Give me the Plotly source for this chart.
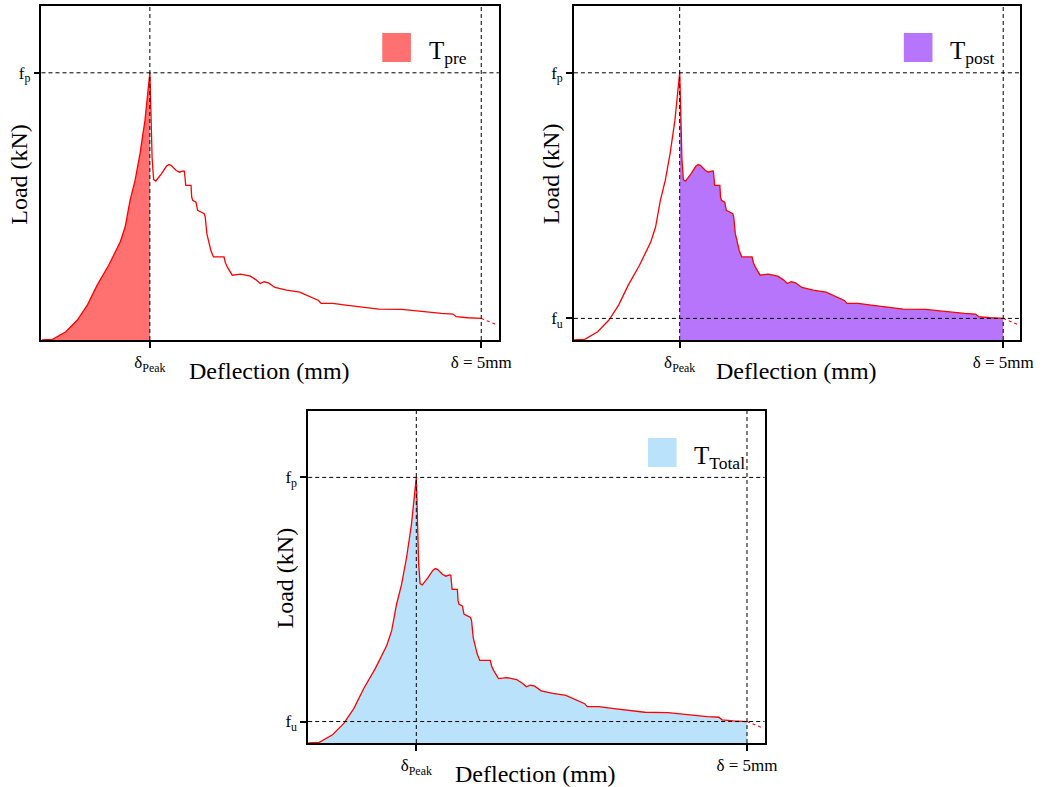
import plotly.graph_objects as go

W, H = 1064, 787

# ---- data (deflection in mm, load in kN) ----
deflection = [0.0, 0.127, 0.277, 0.408, 0.521, 0.633, 0.764, 0.895, 0.951, 1.007, 1.064, 1.120,
              1.176, 1.213, 1.232, 1.243, 1.258, 1.275, 1.300, 1.363, 1.420, 1.449, 1.476, 1.532,
              1.569, 1.610, 1.625, 1.640, 1.700, 1.708, 1.719, 1.757, 1.775, 1.813, 1.850, 1.862,
              1.880, 1.925, 1.955, 2.075, 2.090, 2.112, 2.169, 2.262, 2.375, 2.440, 2.487, 2.530,
              2.581, 2.655, 2.787, 2.936, 3.067, 3.150, 3.180, 3.311, 3.461, 3.610, 3.835, 4.097,
              4.322, 4.547, 4.678, 4.715, 4.846, 5.0]
load = [0.0, 0.025, 0.311, 0.746, 1.306, 2.052, 2.799, 3.669, 4.229, 5.224, 5.970, 6.965,
        8.209, 9.328, 10.0, 8.700, 6.800, 6.000, 5.950, 6.219, 6.500, 6.567, 6.530, 6.343,
        6.281, 6.330, 6.318, 5.784, 5.784, 5.350, 5.224, 5.162, 4.851, 4.789, 4.726, 4.600,
        3.980, 3.358, 3.109, 3.109, 2.900, 2.736, 2.425, 2.463, 2.388, 2.250, 2.114, 2.180,
        2.139, 1.965, 1.866, 1.791, 1.617, 1.480, 1.368, 1.368, 1.306, 1.244, 1.157, 1.144,
        1.057, 0.995, 0.970, 0.871, 0.833, 0.808]
tail_deflection = [5.0, 5.184]
tail_load = [0.808, 0.560]

delta_peak = 1.232
delta_5 = 5.0
f_p = 10.0
f_u = 0.808
x_range = [0, 5.2]
y_range = [0, 12.5]

panels = [
    dict(name="pre", label="T<sub>pre</sub>", color="rgb(255,112,112)", fill=(0.0, delta_peak),
         box=(42, 505, 6, 340), show_fu=False),
    dict(name="post", label="T<sub>post</sub>", color="rgb(183,117,252)", fill=(delta_peak, delta_5),
         box=(581, 1033, 6, 340), show_fu=True),
    dict(name="total", label="T<sub>Total</sub>", color="rgb(186,226,250)", fill=(0.0, delta_5),
         box=(312, 774, 411, 743), show_fu=True),
]

FONT = "Liberation Serif"
fig = go.Figure()
layout = dict(
    width=W, height=H, margin=dict(l=0, r=0, t=0, b=0),
    paper_bgcolor="white", plot_bgcolor="white", showlegend=False,
    font=dict(family=FONT, color="black"),
)
shapes, annotations = [], []


def px(xp):
    return xp / W


def py(yp):
    return 1 - yp / H


for i, p in enumerate(panels):
    k = "" if i == 0 else str(i + 1)
    xa, ya = "x" + k, "y" + k
    l, r, t, b = p["box"]
    # fill
    lo, hi = p["fill"]
    fx, fy = [], []
    for xv, yv in zip(deflection, load):
        if lo - 1e-9 <= xv <= hi + 1e-9:
            fx.append(xv)
            fy.append(yv)
    fig.add_trace(go.Scatter(x=fx, y=fy, mode="lines", line=dict(width=0), fill="tozeroy",
                             fillcolor=p["color"], xaxis=xa, yaxis=ya, hoverinfo="skip"))
    # curve
    fig.add_trace(go.Scatter(x=deflection, y=load, mode="lines", line=dict(color="red", width=1.3),
                             xaxis=xa, yaxis=ya))
    fig.add_trace(go.Scatter(x=tail_deflection, y=tail_load, mode="lines",
                             line=dict(color="red", width=1.1, dash="3px,3px"), xaxis=xa, yaxis=ya))

    yticks = [f_p] + ([f_u] if p["show_fu"] else [])
    ytext = ["f<sub>p</sub>"] + (["f<sub>u</sub>"] if p["show_fu"] else [])
    layout["xaxis" + k] = dict(
        domain=[px(l), px(r)], range=x_range, anchor=ya, showgrid=False, zeroline=False,
        showline=True, mirror=True, linecolor="black", linewidth=1.5,
        ticks="outside", ticklen=6, tickwidth=1.5, tickcolor="black",
        tickvals=[delta_peak, delta_5], ticktext=["δ<sub>Peak</sub>", "δ = 5mm"],
        tickfont=dict(family=FONT, size=17, color="black"),
    )
    layout["yaxis" + k] = dict(
        domain=[py(b), py(t)], range=y_range, anchor=xa, showgrid=False, zeroline=False,
        showline=True, mirror=True, linecolor="black", linewidth=1.5,
        ticks="outside", ticklen=6, tickwidth=1.5, tickcolor="black",
        tickvals=yticks, ticktext=ytext,
        tickfont=dict(family=FONT, size=17, color="black"),
    )
    dash = dict(color="black", width=1, dash="4px,3px")
    for xv in [delta_peak, delta_5]:
        shapes.append(dict(type="line", xref=xa, yref=ya + " domain", x0=xv, x1=xv, y0=0, y1=1,
                           line=dash, layer="above"))
    for yv in yticks:
        shapes.append(dict(type="line", xref=xa + " domain", yref=ya, x0=0, x1=1, y0=yv, y1=yv,
                           line=dash, layer="above"))
    # legend patch + label
    pl = r - 118
    shapes.append(dict(type="rect", xref="paper", yref="paper", x0=px(pl), x1=px(pl + 29),
                       y0=py(t + 56), y1=py(t + 27), fillcolor=p["color"], line=dict(width=0)))
    annotations.append(dict(xref="paper", yref="paper", x=px(pl + 45), y=py(t + 46),
                            xanchor="left", yanchor="middle", showarrow=False,
                            text=p["label"], font=dict(family=FONT, size=25, color="black")))
    # axis titles
    annotations.append(dict(xref="paper", yref="paper", x=px((l + r) / 2 - 1), y=py(b + 31),
                            xanchor="center", yanchor="middle", showarrow=False,
                            text="Deflection (mm)", font=dict(family=FONT, size=24, color="black")))
    annotations.append(dict(xref="paper", yref="paper", x=px(l - 23), y=py((t + b) / 2 + 1),
                            xanchor="center", yanchor="middle", showarrow=False, textangle=-90,
                            text="Load (kN)", font=dict(family=FONT, size=24, color="black")))

layout["shapes"] = shapes
layout["annotations"] = annotations
fig.update_layout(**layout)
fig.write_html("out.html")
